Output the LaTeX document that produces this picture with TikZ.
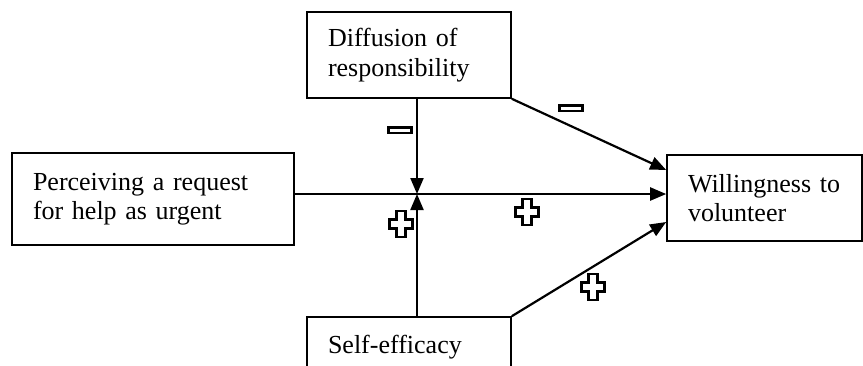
\documentclass[tikz,border=0pt]{standalone}
\usepackage{fontspec}
\setmainfont{Liberation Serif}
\usetikzlibrary{arrows.meta}

\tikzset{
  box/.style={draw, line width=0.8pt, align=left, inner xsep=10.5pt, inner ysep=0pt,
    text width=#1, minimum height=43pt, font=\fontsize{13}{14.8}\selectfont},
  link/.style={line width=1.1pt, -{Triangle[length=8pt,width=6.5pt]}},
  sign/.style={line width=1.3pt, fill=white},
  pics/plusmark/.style={code={
    \draw[sign] (-4.5,-13) -- (4.5,-13) -- (4.5,-4.5) -- (11.5,-4.5) -- (11.5,4.5)
      -- (4.5,4.5) -- (4.5,13) -- (-4.5,13) -- (-4.5,4.5) -- (-11.5,4.5)
      -- (-11.5,-4.5) -- (-4.5,-4.5) -- cycle;}},
  pics/minusmark/.style={code={
    \draw[sign] (-11.5,-2.8) rectangle (11.5,2.8);}},
}

\begin{document}
\begin{tikzpicture}[x=0.5pt, y=-0.5pt]
    \useasboundingbox (0,0) rectangle (863,365);
    % boxes
    \node[box=81pt] (diff) at (409,55) {Diffusion of\\responsibility};
    \node[box=120pt, minimum height=46pt] (perc) at (153,199) {Perceiving a request\\for help as urgent};
    \node[box=76.5pt] (will) at (764.5,198) {Willingness to\\volunteer};
    \node[box=81pt, text height=18pt, text depth=25pt] (self) at (409,360) {Self-efficacy};
    \coordinate (mid) at (417,194);
    % connectors
    \draw[link] (perc.east |- mid) -- (will.west |- mid);
    \draw[link] (diff.south -| mid) -- (mid);
    \draw[link] (self.north -| mid) -- (mid);
    \draw[link] (diff.south east) -- ([yshift=14pt]will.west);
    \draw[link] (self.north east) -- ([yshift=-12pt]will.west);
    % signs
    \pic at (400,130) {minusmark};
    \pic at (571,108) {minusmark};
    \pic at (401,224) {plusmark};
    \pic at (527,212) {plusmark};
    \pic at (593,287) {plusmark};
\end{tikzpicture}
\end{document}
